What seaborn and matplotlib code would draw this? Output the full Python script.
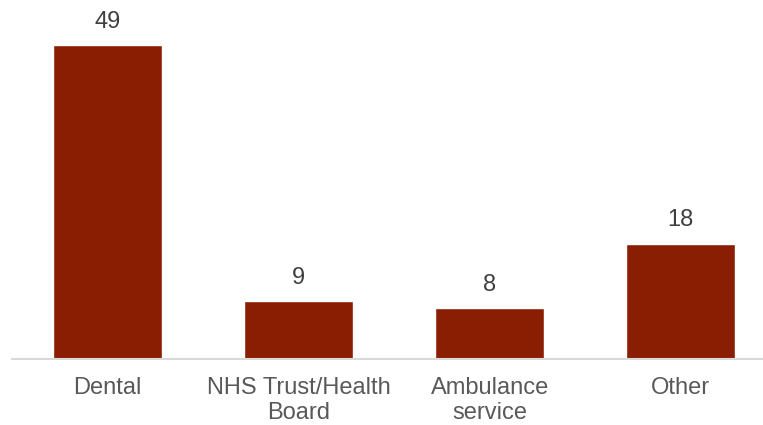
import matplotlib
matplotlib.use("Agg")
import matplotlib.pyplot as plt
import seaborn as sns
import pandas as pd

categories = ["Dental", "NHS Trust/Health\nBoard", "Ambulance\nservice", "Other"]
values = [49, 9, 8, 18]

sns.set_theme(style="white")
plt.rcParams["font.family"] = ["Liberation Sans", "DejaVu Sans"]

df = pd.DataFrame({"category": categories, "value": values})

fig = plt.figure(figsize=(7.63, 4.25), dpi=100)
ax = fig.add_axes([12 / 763, 66 / 425, 751 / 763, 359 / 425])

sns.barplot(data=df, x="category", y="value", color="#8A1E02", saturation=1,
            width=0.57, ax=ax)

for i, v in enumerate(values):
    ax.text(i, v + 1.9, str(v), ha="center", va="bottom", fontsize=17, color="#404040")

ax.set_ylim(0, 56)
ax.set_xlim(-0.5, 3.43)
ax.set_xlabel("")
ax.set_ylabel("")
ax.set_yticks([])
ax.tick_params(axis="x", length=0, pad=13, labelsize=17, colors="#595959")
for lbl in ax.get_xticklabels():
    lbl.set_linespacing(1.2)
for s in ["top", "right", "left"]:
    ax.spines[s].set_visible(False)
ax.spines["bottom"].set_color("#D9D9D9")
ax.spines["bottom"].set_linewidth(1.5)

fig.savefig("out.png", dpi=100)
